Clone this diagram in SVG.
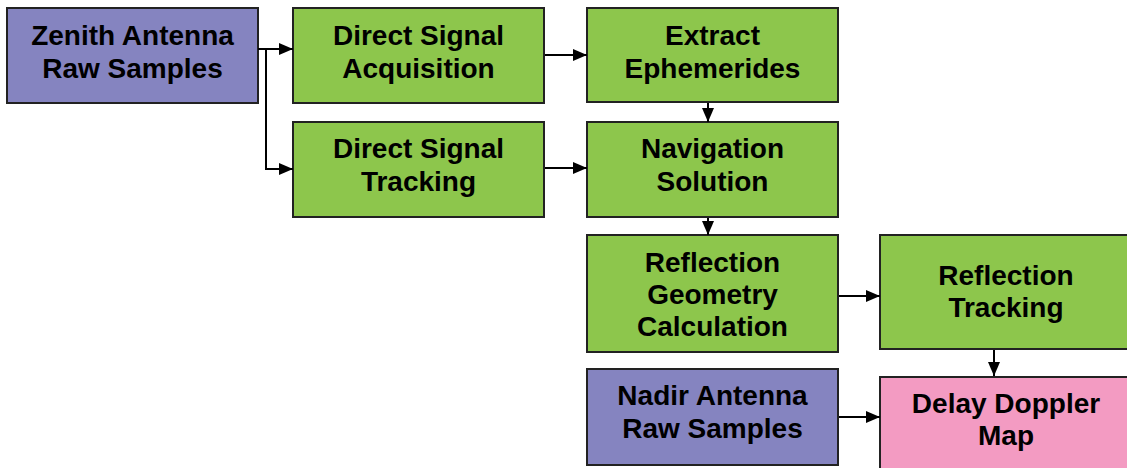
<svg xmlns="http://www.w3.org/2000/svg" width="1127" height="468" viewBox="0 0 1127 468">
<defs>
<marker id="ah" markerWidth="14" markerHeight="12" refX="14" refY="6" orient="auto" markerUnits="userSpaceOnUse">
<path d="M0,0 L14,6 L0,12 Z" fill="#000"/>
</marker>
<style>
.box{stroke:#222;stroke-width:2}
.raw{fill:#8584c0}
.proc{fill:#8dc64c}
.out{fill:#f39bc2}
text{font-family:"Liberation Sans",Arial,sans-serif;font-weight:bold;font-size:28px;fill:#000;text-anchor:middle}
.c{fill:none;stroke:#000;stroke-width:2}
</style>
</defs>
<rect width="1127" height="468" fill="#fff"/>
<g id="zenith">
<rect class="box raw" x="7" y="8" width="251" height="95"/>
<text x="132.5" y="45">Zenith Antenna</text>
<text x="132.5" y="78">Raw Samples</text>
</g>
<g id="dsa">
<rect class="box proc" x="293" y="8" width="251" height="95"/>
<text x="418.5" y="45">Direct Signal</text>
<text x="418.5" y="78">Acquisition</text>
</g>
<g id="extract">
<rect class="box proc" x="587" y="8" width="251" height="94"/>
<text x="712.5" y="45">Extract</text>
<text x="712.5" y="78">Ephemerides</text>
</g>
<g id="dst">
<rect class="box proc" x="293" y="122" width="251" height="95"/>
<text x="418.5" y="158">Direct Signal</text>
<text x="418.5" y="191">Tracking</text>
</g>
<g id="nav">
<rect class="box proc" x="587" y="122" width="251" height="95"/>
<text x="712.5" y="158">Navigation</text>
<text x="712.5" y="191">Solution</text>
</g>
<g id="rgc">
<rect class="box proc" x="587" y="235" width="251" height="117"/>
<text x="712.5" y="272">Reflection</text>
<text x="712.5" y="304">Geometry</text>
<text x="712.5" y="336">Calculation</text>
</g>
<g id="rt">
<rect class="box proc" x="880" y="235" width="251" height="114"/>
<text x="1006" y="285">Reflection</text>
<text x="1006" y="317">Tracking</text>
</g>
<g id="nadir">
<rect class="box raw" x="587" y="369" width="251" height="96"/>
<text x="712.5" y="405">Nadir Antenna</text>
<text x="712.5" y="438">Raw Samples</text>
</g>
<g id="ddm">
<rect class="box out" x="880" y="377" width="251" height="100"/>
<text x="1006" y="413">Delay Doppler</text>
<text x="1006" y="445">Map</text>
</g>
<g id="connectors">
<path class="c" d="M258,49 H293" marker-end="url(#ah)"/>
<path class="c" d="M266,49 V169 H293" marker-end="url(#ah)"/>
<path class="c" d="M545,55 H587" marker-end="url(#ah)"/>
<path class="c" d="M545,168 H587" marker-end="url(#ah)"/>
<path class="c" d="M708,103 V122" marker-end="url(#ah)"/>
<path class="c" d="M708,218 V235" marker-end="url(#ah)"/>
<path class="c" d="M839,296 H880" marker-end="url(#ah)"/>
<path class="c" d="M994,350 V376" marker-end="url(#ah)"/>
<path class="c" d="M839,417 H880" marker-end="url(#ah)"/>
</g>
</svg>
